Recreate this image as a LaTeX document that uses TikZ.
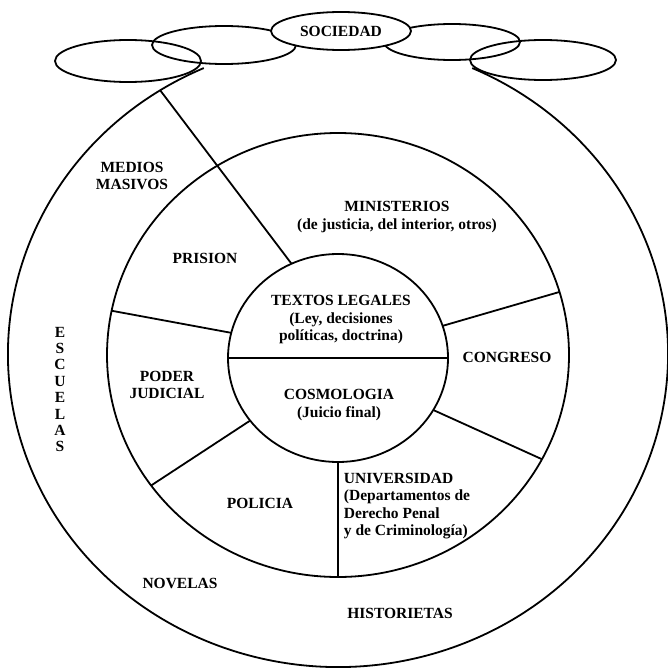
\documentclass[tikz,border=0pt]{standalone}
\usepackage{fontspec}
\setmainfont{Liberation Serif}
\usetikzlibrary{shapes.geometric}
\begin{document}
\begin{tikzpicture}[x=1pt,y=-1pt,line width=1.8pt,
  lbl/.style={font=\fontsize{15.5}{17.5}\selectfont\bfseries,align=center,inner sep=0pt},
  ring/.style={draw=black,line width=1.8pt}]
\useasboundingbox (0,0) rectangle (668,669);
% centres
\coordinate (Oo) at (338,354);
\coordinate (Om) at (338,355);
\coordinate (Oi) at (338,358);
% outer ring (open at top)
\draw[ring] ([shift={(114:330pt and 313pt)}]Oo) arc[start angle=114,end angle=426,x radius=330pt,y radius=313pt];
% middle and inner rings
\draw[ring] (Om) ellipse [x radius=231pt,y radius=222pt];
\draw[ring] (Oi) ellipse [x radius=110pt,y radius=104pt];
% points on the inner ring
\coordinate (i1) at ([shift={(115:110pt and 104pt)}]Oi);
\coordinate (i2) at ([shift={(166:110pt and 104pt)}]Oi);
\coordinate (i3) at ([shift={(217:110pt and 104pt)}]Oi);
\coordinate (i4) at ([shift={(270:110pt and 104pt)}]Oi);
\coordinate (i5) at ([shift={(-30:110pt and 104pt)}]Oi);
\coordinate (i6) at ([shift={(18:110pt and 104pt)}]Oi);
\coordinate (iw) at ([shift={(180:110pt and 104pt)}]Oi);
\coordinate (ie) at ([shift={(0:110pt and 104pt)}]Oi);
% points on the middle ring
\coordinate (m2) at ([shift={(168.5:231pt and 222pt)}]Om);
\coordinate (m3) at ([shift={(216:231pt and 222pt)}]Om);
\coordinate (m4) at ([shift={(270:231pt and 222pt)}]Om);
\coordinate (m5) at ([shift={(-28:231pt and 222pt)}]Om);
\coordinate (m6) at ([shift={(16.5:231pt and 222pt)}]Om);
% point on the outer ring
\coordinate (o1) at ([shift={(122.6:330pt and 313pt)}]Oo);
% spokes
\draw[ring] (i1) -- (o1);
\draw[ring] (i2) -- (m2);
\draw[ring] (i3) -- (m3);
\draw[ring] (i4) -- (m4);
\draw[ring] (i5) -- (m5);
\draw[ring] (i6) -- (m6);
\draw[ring] (iw) -- (ie);
% top ellipses
\draw[ring] (128,61) ellipse [x radius=73pt,y radius=21pt];
\draw[ring] (224,45) ellipse [x radius=72pt,y radius=19pt];
\draw[ring] (452,42) ellipse [x radius=68pt,y radius=18pt];
\draw[ring] (543,60) ellipse [x radius=73pt,y radius=20pt];
\node[ellipse,draw,line width=1.8pt,fill=white,minimum width=140pt,minimum height=38pt,inner sep=0pt,
  font=\fontsize{15.5}{17.5}\selectfont\bfseries] (soc) at (341,31) {SOCIEDAD};
% labels
\node[lbl] (medios) at (132,176) {MEDIOS\\MASIVOS};
\node[lbl] (minist) at (397,217) {MINISTERIOS\\(de justicia, del interior, otros)};
\node[lbl] (prision) at (205,258) {PRISION};
\node[lbl] (textos) at (341,320) {TEXTOS LEGALES\\(Ley, decisiones\\políticas, doctrina)};
\node[lbl] (congreso) at (507,357) {CONGRESO};
\node[lbl] (poder) at (167,385) {PODER\\JUDICIAL};
\node[lbl] (cosmo) at (339,405) {COSMOLOGIA\\(Juicio final)};
\node[lbl] (policia) at (260,503) {POLICIA};
\node[lbl,align=left,anchor=west] (univ) at (343,506) {UNIVERSIDAD\\(Departamentos de\\Derecho Penal\\y de Criminología)};
\node[lbl,font=\fontsize{15.5}{16.4}\selectfont\bfseries] (escuelas) at (60,389.5) {E\\S\\C\\U\\E\\L\\A\\S};
\node[lbl] (novelas) at (180,583) {NOVELAS};
\node[lbl] (histo) at (400,613) {HISTORIETAS};
\end{tikzpicture}
\end{document}
